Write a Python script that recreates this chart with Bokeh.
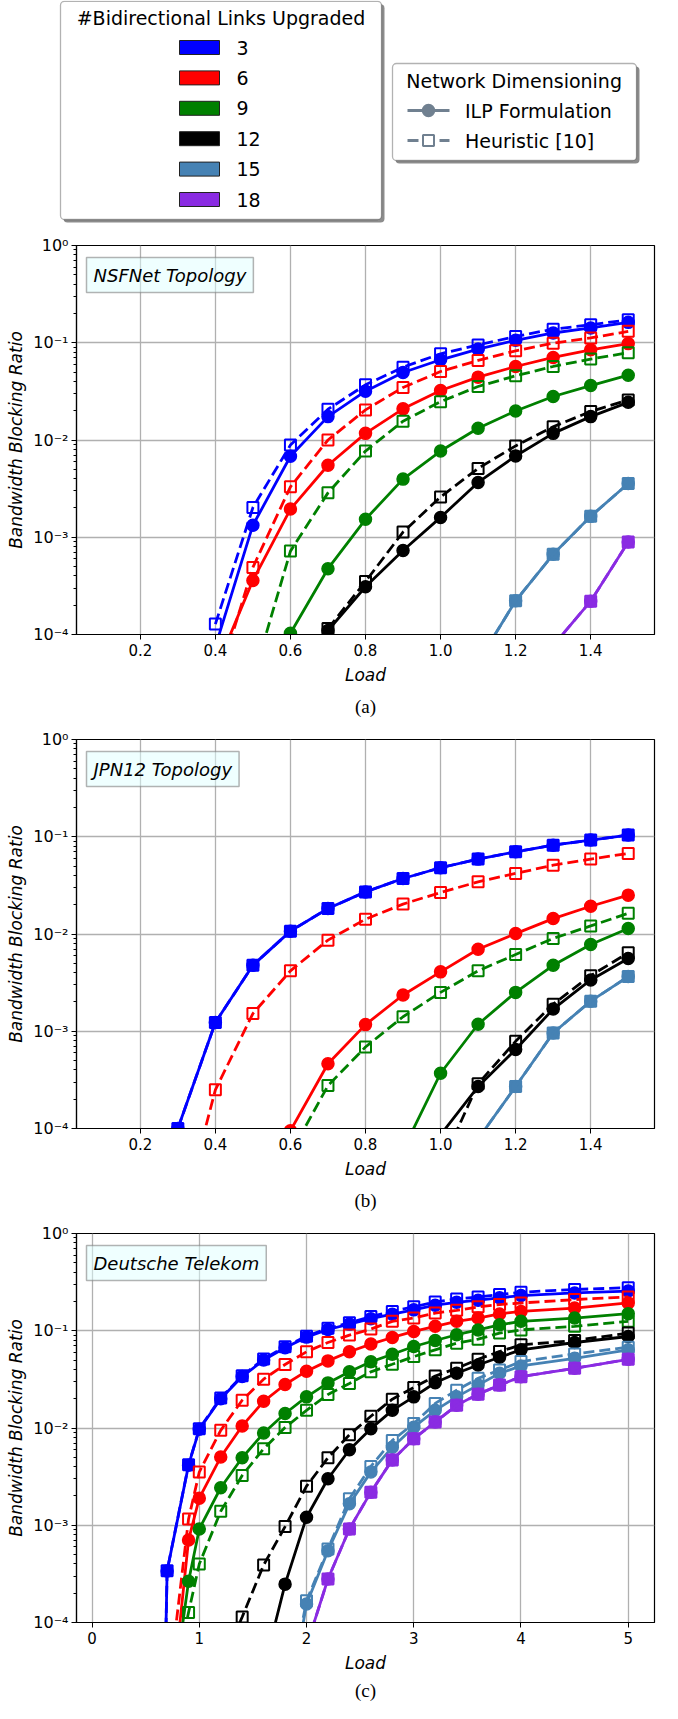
import numpy as np
from bokeh.plotting import figure
from bokeh.layouts import column
from bokeh.models import (Range1d, FixedTicker, CustomJSTickFormatter, Label, Title,
                          BoxAnnotation, ColumnDataSource)
from bokeh.core.properties import value
from bokeh.embed import file_html
from bokeh.resources import INLINE

N = float("nan")

COUNTS = ["3", "6", "9", "12", "15", "18"]
COLORS = ["#0000ff", "#ff0000", "#008000", "#000000", "#4682b4", "#8a2be2"]
METHODS = ["ILP Formulation", "Heuristic [10]"]
LEGEND1_TITLE = "#Bidirectional Links Upgraded"
LEGEND2_TITLE = "Network Dimensioning"
Y_LABEL = "Bandwidth Blocking Ratio"
X_LABEL = "Load"

# ---------------- (a) NSFNet ----------------
LOAD_A = [0.4, 0.5, 0.6, 0.7, 0.8, 0.9, 1.0, 1.1, 1.2, 1.3, 1.4, 1.5]
A_ILP_3 = [7.5e-5, 1.33e-3, 6.8e-3, 1.74e-2, 3.18e-2, 4.94e-2, 6.68e-2, 8.6e-2, 0.106, 0.126, 0.142, 0.162]
A_HEU_3 = [1.28e-4, 2.02e-3, 8.87e-3, 2.07e-2, 3.69e-2, 5.61e-2, 7.7e-2, 9.5e-2, 0.116, 0.138, 0.153, 0.172]
A_ILP_6 = [4.3e-5, 3.6e-4, 1.95e-3, 5.5e-3, 1.17e-2, 2.09e-2, 3.23e-2, 4.43e-2, 5.7e-2, 7.06e-2, 8.47e-2, 9.8e-2]
A_HEU_6 = [2.7e-5, 4.9e-4, 3.3e-3, 1.0e-2, 2.04e-2, 3.47e-2, 5.06e-2, 6.58e-2, 8.27e-2, 9.9e-2, 0.112, 0.131]
A_ILP_9 = [N, N, 1.03e-4, 4.75e-4, 1.53e-3, 3.96e-3, 7.7e-3, 1.32e-2, 1.99e-2, 2.8e-2, 3.63e-2, 4.64e-2]
A_HEU_9 = [N, 3.5e-5, 7.2e-4, 2.86e-3, 7.7e-3, 1.56e-2, 2.48e-2, 3.55e-2, 4.57e-2, 5.7e-2, 6.79e-2, 7.9e-2]
A_ILP_12 = [N, N, N, 1.1e-4, 3.1e-4, 7.3e-4, 1.6e-3, 3.66e-3, 6.84e-3, 1.17e-2, 1.74e-2, 2.44e-2]
A_HEU_12 = [N, N, N, 1.15e-4, 3.5e-4, 1.13e-3, 2.6e-3, 5.1e-3, 8.7e-3, 1.37e-2, 1.96e-2, 2.58e-2]
A_ILP_15 = [N, N, N, N, N, N, N, 5.2e-5, 2.22e-4, 6.68e-4, 1.64e-3, 3.57e-3]
A_HEU_15 = [N, N, N, N, N, N, N, 5.2e-5, 2.22e-4, 6.68e-4, 1.64e-3, 3.57e-3]
A_ILP_18 = [N, N, N, N, N, N, N, N, N, 7.7e-5, 2.2e-4, 8.95e-4]
A_HEU_18 = [N, N, N, N, N, N, N, N, N, 7.7e-5, 2.2e-4, 8.95e-4]

# ---------------- (b) JPN12 ----------------
LOAD_B = [0.3, 0.4, 0.5, 0.6, 0.7, 0.8, 0.9, 1.0, 1.1, 1.2, 1.3, 1.4, 1.5]
B_ILP_3 = [1.0e-4, 1.23e-3, 4.77e-3, 1.07e-2, 1.83e-2, 2.71e-2, 3.72e-2, 4.8e-2, 5.89e-2, 7.0e-2, 8.2e-2, 9.25e-2, 0.104]
B_HEU_3 = [1.0e-4, 1.23e-3, 4.77e-3, 1.07e-2, 1.83e-2, 2.71e-2, 3.72e-2, 4.8e-2, 5.89e-2, 7.0e-2, 8.2e-2, 9.25e-2, 0.104]
B_ILP_6 = [N, N, N, 9.5e-5, 4.63e-4, 1.17e-3, 2.36e-3, 4.08e-3, 6.98e-3, 1.01e-2, 1.44e-2, 1.93e-2, 2.51e-2]
B_HEU_6 = [8.3e-6, 2.5e-4, 1.52e-3, 4.18e-3, 8.65e-3, 1.42e-2, 2.03e-2, 2.67e-2, 3.44e-2, 4.2e-2, 5.1e-2, 5.89e-2, 6.73e-2]
B_ILP_9 = [N, N, N, N, N, N, 6e-5, 3.7e-4, 1.18e-3, 2.51e-3, 4.77e-3, 7.8e-3, 1.14e-2]
B_HEU_9 = [N, N, N, 5.5e-5, 2.76e-4, 6.89e-4, 1.41e-3, 2.51e-3, 4.18e-3, 6.15e-3, 9.0e-3, 1.21e-2, 1.63e-2]
B_ILP_12 = [N, N, N, N, N, N, N, 8.6e-5, 2.7e-4, 6.5e-4, 1.69e-3, 3.37e-3, 5.6e-3]
B_HEU_12 = [N, N, N, N, N, N, N, 4.1e-5, 2.88e-4, 7.88e-4, 1.9e-3, 3.73e-3, 6.4e-3]
B_ILP_15 = [N, N, N, N, N, N, N, N, 7.8e-5, 2.7e-4, 9.6e-4, 2.04e-3, 3.65e-3]
B_HEU_15 = [N, N, N, N, N, N, N, N, 7.8e-5, 2.7e-4, 9.6e-4, 2.04e-3, 3.65e-3]

# ---------------- (c) Deutsche Telekom ----------------
LOAD_C = [0.6, 0.7, 0.9, 1.0, 1.2, 1.4, 1.6, 1.8, 2.0, 2.2, 2.4, 2.6, 2.8, 3.0, 3.2, 3.4, 3.6, 3.8, 4.0, 4.5, 5.0]
C_ILP_3 = [1e-9, 3.38e-4, 4.15e-3, 9.7e-3, 2.0e-2, 3.38e-2, 5.0e-2, 6.7e-2, 8.6e-2, 0.103, 0.117, 0.133, 0.148, 0.164, 0.183, 0.196, 0.206, 0.218, 0.23, 0.245, 0.256]
C_HEU_3 = [1e-9, 3.41e-4, 4.19e-3, 9.84e-3, 2.04e-2, 3.44e-2, 5.11e-2, 6.84e-2, 8.8e-2, 0.106, 0.121, 0.14, 0.158, 0.176, 0.198, 0.212, 0.222, 0.236, 0.249, 0.266, 0.277]
C_ILP_6 = [N, 5.4e-6, 7.06e-4, 1.9e-3, 5.03e-3, 1.05e-2, 1.88e-2, 2.8e-2, 3.84e-2, 4.9e-2, 6.08e-2, 7.29e-2, 8.53e-2, 9.84e-2, 0.111, 0.125, 0.135, 0.149, 0.158, 0.171, 0.193]
C_HEU_6 = [N, 1.6e-5, 1.16e-3, 3.52e-3, 9.46e-3, 1.93e-2, 3.18e-2, 4.5e-2, 6.08e-2, 7.58e-2, 9.02e-2, 0.104, 0.125, 0.135, 0.152, 0.162, 0.176, 0.186, 0.193, 0.209, 0.223]
C_ILP_9 = [N, 6.8e-6, 2.65e-4, 9.16e-4, 2.43e-3, 4.94e-3, 8.87e-3, 1.41e-2, 2.09e-2, 2.91e-2, 3.78e-2, 4.79e-2, 5.74e-2, 6.89e-2, 7.94e-2, 9.1e-2, 0.102, 0.115, 0.125, 0.135, 0.15]
C_HEU_9 = [N, 1.2e-5, 1.27e-4, 3.99e-4, 1.39e-3, 3.25e-3, 6.12e-3, 1.01e-2, 1.52e-2, 2.21e-2, 2.87e-2, 3.78e-2, 4.52e-2, 5.42e-2, 6.36e-2, 7.45e-2, 8.2e-2, 9.46e-2, 0.102, 0.111, 0.125]
C_ILP_12 = [N, N, N, N, N, N, 3.3e-5, 2.48e-4, 1.21e-3, 3.01e-3, 5.98e-3, 9.84e-3, 1.52e-2, 2.09e-2, 2.92e-2, 3.65e-2, 4.45e-2, 5.34e-2, 6.36e-2, 7.57e-2, 8.73e-2]
C_HEU_12 = [N, N, N, N, 3.5e-5, 1.14e-4, 3.9e-4, 9.68e-4, 2.52e-3, 4.94e-3, 8.53e-3, 1.32e-2, 1.98e-2, 2.61e-2, 3.42e-2, 4.11e-2, 5.09e-2, 6.11e-2, 7.16e-2, 7.94e-2, 9.46e-2]
C_ILP_15 = [N, N, N, N, N, N, N, 8.5e-6, 1.55e-4, 5.48e-4, 1.66e-3, 3.52e-3, 6.35e-3, 1.02e-2, 1.52e-2, 2.09e-2, 2.76e-2, 3.65e-2, 4.35e-2, 5.21e-2, 6.36e-2]
C_HEU_15 = [N, N, N, N, N, N, N, 1.2e-5, 1.67e-4, 5.7e-4, 1.87e-3, 4.03e-3, 7.45e-3, 1.11e-2, 1.79e-2, 2.45e-2, 3.24e-2, 3.95e-2, 4.82e-2, 5.78e-2, 6.78e-2]
C_ILP_18 = [N, N, N, N, N, N, N, N, 5.7e-5, 2.8e-4, 9.16e-4, 2.19e-3, 4.7e-3, 7.76e-3, 1.15e-2, 1.71e-2, 2.23e-2, 2.76e-2, 3.37e-2, 4.11e-2, 5.09e-2]
C_HEU_18 = [N, N, N, N, N, N, N, N, 5.7e-5, 2.8e-4, 9.16e-4, 2.19e-3, 4.7e-3, 7.76e-3, 1.15e-2, 1.71e-2, 2.23e-2, 2.76e-2, 3.37e-2, 4.11e-2, 5.09e-2]

PANELS = [
    dict(name="NSFNet Topology", caption="(a)", load=LOAD_A, xr=(0.03, 1.57),
         xticks=[0.2, 0.4, 0.6, 0.8, 1.0, 1.2, 1.4], xdig=1,
         series={"3": (A_ILP_3, A_HEU_3), "6": (A_ILP_6, A_HEU_6), "9": (A_ILP_9, A_HEU_9),
                 "12": (A_ILP_12, A_HEU_12), "15": (A_ILP_15, A_HEU_15), "18": (A_ILP_18, A_HEU_18)}),
    dict(name="JPN12 Topology", caption="(b)", load=LOAD_B, xr=(0.03, 1.57),
         xticks=[0.2, 0.4, 0.6, 0.8, 1.0, 1.2, 1.4], xdig=1,
         series={"3": (B_ILP_3, B_HEU_3), "6": (B_ILP_6, B_HEU_6), "9": (B_ILP_9, B_HEU_9),
                 "12": (B_ILP_12, B_HEU_12), "15": (B_ILP_15, B_HEU_15)}),
    dict(name="Deutsche Telekom", caption="(c)", load=LOAD_C, xr=(-0.145, 5.245),
         xticks=[0, 1, 2, 3, 4, 5], xdig=0,
         series={"3": (C_ILP_3, C_HEU_3), "6": (C_ILP_6, C_HEU_6), "9": (C_ILP_9, C_HEU_9),
                 "12": (C_ILP_12, C_HEU_12), "15": (C_ILP_15, C_HEU_15), "18": (C_ILP_18, C_HEU_18)}),
]

FONT = "DejaVu Sans"
LEG_COLOR = "#708090"

# ---------------- legend strip ----------------
LW, LH = 662, 235
lg = figure(width=LW, height=LH, x_range=Range1d(0, LW), y_range=Range1d(LH, 0),
            x_axis_location=None, y_axis_location=None, toolbar_location=None,
            output_backend="svg", min_border_left=0, min_border_right=0,
            min_border_top=0, min_border_bottom=0, outline_line_color=None)
lg.frame_align = False
lg.grid.visible = False


def legend_box(left, right, top, bottom):
    lg.add_layout(BoxAnnotation(left=left + 3, right=right + 3, top=top + 3, bottom=bottom + 3,
                                fill_color="black", fill_alpha=0.45, line_color=None,
                                border_radius=4, level="underlay"))
    lg.add_layout(BoxAnnotation(left=left, right=right, top=top, bottom=bottom,
                                fill_color="white", fill_alpha=1.0, line_color="black",
                                line_width=1.3, border_radius=4, level="underlay"))


legend_box(60, 381, 0.8, 219)
legend_box(392, 636, 63, 160)

rows = [47 + 30.4 * i for i in range(len(COUNTS))]
sw = ColumnDataSource(dict(left=[179] * len(COUNTS), right=[219] * len(COUNTS),
                           top=[r - 7 for r in rows], bottom=[r + 7 for r in rows],
                           color=COLORS, label=COUNTS, lx=[236] * len(COUNTS), ly=rows))
lg.quad(left="left", right="right", top="top", bottom="bottom", source=sw,
        fill_color="color", line_color="#222222", line_width=1)
lg.text(x="lx", y="ly", text="label", source=sw, text_font=value(FONT),
        text_font_size=value("19px"), text_baseline="middle", text_align="left", text_color="black")
lg.text(x=[220.5], y=[17], text=[LEGEND1_TITLE], text_font=value(FONT),
        text_font_size=value("19px"), text_baseline="middle", text_align="center", text_color="black")
lg.text(x=[513.6], y=[80], text=[LEGEND2_TITLE], text_font=value(FONT),
        text_font_size=value("19px"), text_baseline="middle", text_align="center", text_color="black")
lg.text(x=[464.5, 464.5], y=[110, 140], text=METHODS, text_font=value(FONT),
        text_font_size=value("19px"), text_baseline="middle", text_align="left", text_color="black")
lg.line(x=[407, 449], y=[110, 110], line_color=LEG_COLOR, line_width=2.8)
lg.scatter(x=[428], y=[110], marker="circle", size=12, fill_color=LEG_COLOR,
           line_color=LEG_COLOR, line_width=1.5)
lg.line(x=[407, 449], y=[140, 140], line_color=LEG_COLOR, line_width=2.8, line_dash="11 5")
lg.scatter(x=[428], y=[140], marker="square", size=11, fill_color="white",
           line_color=LEG_COLOR, line_width=2)

# ---------------- panels ----------------
YFMT_CODE = """
const e = Math.round(Math.log10(tick));
const m = {"-": "\\u207b", "0": "\\u2070", "1": "\\u00b9", "2": "\\u00b2", "3": "\\u00b3", "4": "\\u2074", "5": "\\u2075"};
let s = "10";
for (const c of String(e)) { s += m[c]; }
return s;
"""

figs = [lg]
heights = [494, 494, 480]
bottoms = [95, 95, 81]
standoffs = [12, 12, 5]
for k, P in enumerate(PANELS):
    p = figure(width=662, height=heights[k], x_range=Range1d(*P["xr"]), y_range=Range1d(1e-4, 1.0),
               y_axis_type="log", output_backend="svg", toolbar_location=None,
               min_border_left=76, min_border_right=8, min_border_top=10,
               min_border_bottom=bottoms[k])
    p.frame_align = False
    p.outline_line_color = "black"
    p.outline_line_width = 1.2
    p.xaxis.ticker = FixedTicker(ticks=P["xticks"])
    p.xaxis.formatter = CustomJSTickFormatter(code="return tick.toFixed(%d);" % P["xdig"])
    p.yaxis.ticker = FixedTicker(ticks=[1e-4, 1e-3, 1e-2, 1e-1, 1.0],
                                 minor_ticks=[m * 10.0 ** e for e in range(-4, 0) for m in range(2, 10)])
    p.yaxis.formatter = CustomJSTickFormatter(code=YFMT_CODE)
    for ax in (p.xaxis, p.yaxis):
        ax.axis_line_color = "black"
        ax.axis_line_width = 1.2
        ax.major_tick_line_color = "black"
        ax.minor_tick_line_color = "black"
        ax.major_tick_in = 0
        ax.major_tick_out = 5
        ax.minor_tick_in = 0
        ax.minor_tick_out = 3
        ax.major_label_text_font = FONT
        ax.major_label_text_color = "black"
        ax.axis_label_text_font = FONT
        ax.axis_label_text_font_size = "17px"
        ax.axis_label_text_font_style = "italic"
        ax.axis_label_text_color = "black"
    p.xaxis.major_label_text_font_size = "15px"
    p.yaxis.major_label_text_font_size = "16px"
    p.xaxis.axis_label = X_LABEL
    p.yaxis.axis_label = Y_LABEL
    p.xaxis.major_label_standoff = 4
    p.xaxis.axis_label_standoff = 6
    p.yaxis.major_label_standoff = 3
    p.yaxis.axis_label_standoff = 4
    p.grid.grid_line_color = "#b0b0b0"
    p.grid.grid_line_width = 1.3

    for cnt, color in zip(COUNTS, COLORS):
        if cnt not in P["series"]:
            continue
        ilp, heu = P["series"][cnt]
        src = ColumnDataSource(dict(x=np.array(P["load"], dtype=float),
                                    ilp=np.array(ilp, dtype=float),
                                    heu=np.array(heu, dtype=float)))
        p.line("x", "ilp", source=src, line_color=color, line_width=2.8)
        p.scatter("x", "ilp", source=src, marker="circle", size=12, fill_color=color,
                  line_color=color, line_width=1.5)
        p.line("x", "heu", source=src, line_color=color, line_width=2.8, line_dash="11 5")
        p.scatter("x", "heu", source=src, marker="square", size=11, fill_color=None,
                  line_color=color, line_width=2)

    p.add_layout(Label(x=P["xr"][0], y=1.0, x_offset=10, y_offset=-12, text=P["name"],
                       text_font=FONT, text_font_style="italic", text_font_size="18px",
                       text_baseline="top", text_align="left", text_color="black",
                       background_fill_color="#e0ffff", background_fill_alpha=0.5,
                       border_line_color="#808080", border_line_alpha=0.6,
                       border_line_width=1.5, padding=7))
    p.add_layout(Title(text=P["caption"], align="center", offset=-17, text_font="Liberation Serif",
                       text_font_size="19px", text_font_style="normal", text_color="black",
                       standoff=standoffs[k]), "below")
    figs.append(p)

layout = column(*figs, spacing=0)
open("out.html", "w", encoding="utf-8").write(file_html(layout, INLINE))
